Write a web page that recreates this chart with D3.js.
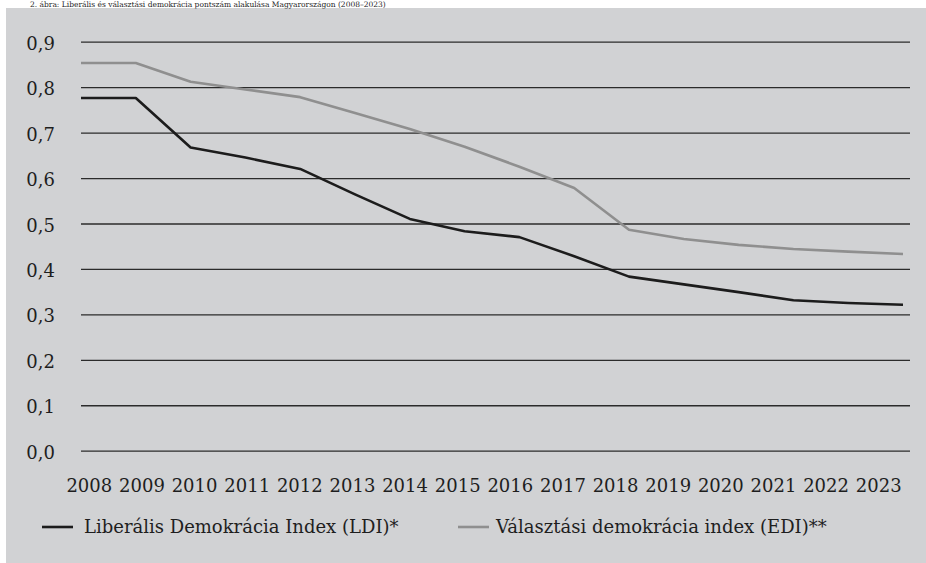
<!DOCTYPE html>
<html>
<head>
<meta charset="utf-8">
<script src="https://cdn.jsdelivr.net/npm/d3@7/dist/d3.min.js"></script>
<style>
  html, body { margin: 0; padding: 0; background: #ffffff; }
  svg { display: block; }
  text { font-family: "DejaVu Serif", serif; fill: #1e1e1e; }
</style>
</head>
<body>
<svg id="chart" width="926" height="563"></svg>
<script>
// ---- data ----
const years = ["2008","2009","2010","2011","2012","2013","2014","2015","2016","2017","2018","2019","2020","2021","2022","2023"];
const ldi = [0.776,0.776,0.667,0.645,0.620,0.564,0.510,0.483,0.470,0.428,0.383,0.366,0.349,0.331,0.325,0.321];
const edi = [0.853,0.853,0.812,0.795,0.778,0.743,0.708,0.669,0.625,0.578,0.486,0.466,0.453,0.444,0.438,0.433];
const yTicks = [0,0.1,0.2,0.3,0.4,0.5,0.6,0.7,0.8,0.9];
const seriesNames = ["Liberális Demokrácia Index (LDI)*", "Választási demokrácia index (EDI)**"];
const titleText = "2. ábra: Liberális és választási demokrácia pontszám alakulása Magyarországon (2008–2023)";

// ---- chart ----
const svg = d3.select("#chart");
const W = 926, H = 563;

svg.append("rect").attr("x", 6).attr("y", 8).attr("width", W - 6).attr("height", H - 8).attr("fill", "#d1d2d4");

svg.append("text").attr("x", 30).attr("y", 6.5).attr("font-size", 7.5).attr("fill", "#555").text(titleText);

const y = d3.scaleLinear().domain([0, 0.9]).range([450.7, 41.7]);
const xLine = d3.scalePoint().domain(years).range([81, 903]);
const xLabel = d3.scaleBand().domain(years).range([63, 905]);
const gridX0 = 81, gridX1 = 910;

const fmt = v => d3.format(".1f")(v).replace(".", ",");

// gridlines + y labels via axis
const yAxis = svg.append("g").attr("transform", `translate(${gridX0},0)`)
  .call(d3.axisLeft(y).tickValues(yTicks).tickFormat(fmt).tickSize(-(gridX1 - gridX0)).tickPadding(26));
yAxis.select(".domain").remove();
yAxis.selectAll(".tick line").attr("stroke", "#2b2b2b").attr("stroke-width", 1.3);
yAxis.selectAll(".tick text").attr("font-size", 18).attr("font-family", "DejaVu Serif").attr("fill", "#1e1e1e").attr("dy", "0.42em");

// x labels
const xAxis = svg.append("g").attr("transform", "translate(0,472)")
  .call(d3.axisBottom(xLabel).tickSize(0).tickPadding(0));
xAxis.select(".domain").remove();
xAxis.selectAll(".tick text").attr("font-size", 18).attr("font-family", "DejaVu Serif").attr("fill", "#1e1e1e").attr("dy", "1.09em");

// lines
const line = d3.line().x((d, i) => xLine(years[i])).y(d => y(d));
svg.append("path").datum(edi).attr("d", line).attr("fill", "none").attr("stroke", "#8f8f8f").attr("stroke-width", 2.6).attr("stroke-linejoin", "round");
svg.append("path").datum(ldi).attr("d", line).attr("fill", "none").attr("stroke", "#1c1c1c").attr("stroke-width", 2.6).attr("stroke-linejoin", "round");

// legend
const legendItems = [
  { name: seriesNames[0], color: "#1c1c1c", x0: 42, tx: 84 },
  { name: seriesNames[1], color: "#8f8f8f", x0: 458, tx: 496 }
];
const lg = svg.append("g");
legendItems.forEach(it => {
  lg.append("line").attr("x1", it.x0).attr("x2", it.x0 + 31).attr("y1", 527).attr("y2", 527)
    .attr("stroke", it.color).attr("stroke-width", 2.6);
  lg.append("text").attr("x", it.tx).attr("y", 533).attr("font-size", 18).text(it.name);
});
</script>
</body>
</html>
